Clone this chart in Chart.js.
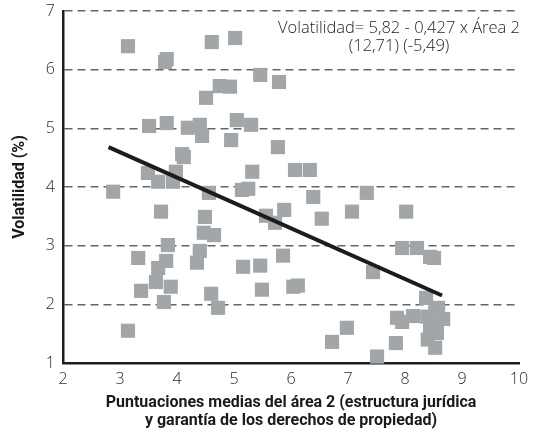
<!DOCTYPE html>
<html>
<head>
<meta charset="utf-8">
<script src="https://cdn.jsdelivr.net/npm/chart.js@4.4.0/dist/chart.umd.js"></script>
<style>
  html, body { margin: 0; padding: 0; background: #fff; }
  #wrap { width: 536px; height: 434px; position: relative; }
</style>
</head>
<body>
<div id="wrap"><canvas id="chart"></canvas></div>
<script>
// puntuaciones medias del área 2 (eje x)
const area2 = [
  3.14, 4.61, 5.02, 3.82, 3.79, 5.46, 5.79, 4.75, 4.93, 4.51,
  3.51, 3.82, 4.19, 4.40, 4.44, 5.05, 5.30, 4.95, 5.77, 4.09,
  4.12, 3.49, 3.67, 3.98, 3.93, 5.32, 2.88, 4.56, 5.14, 5.25,
  6.07, 6.33, 6.39, 7.33, 6.54, 7.07, 8.02, 3.72, 4.49, 4.47,
  4.65, 5.56, 5.72, 5.88, 3.84, 4.40, 4.35, 3.32, 3.81, 3.67,
  3.63, 3.37, 3.89, 3.77, 4.60, 4.72, 5.16, 5.46, 5.49, 6.04,
  6.12, 3.14, 7.44, 7.95, 8.21, 8.44, 8.51, 8.37, 8.58, 7.86,
  7.95, 8.14, 8.39, 8.53, 8.67, 8.44, 8.56, 8.40, 8.53, 7.84,
  6.98, 6.72, 7.51, 5.86
];
// volatilidad (%) (eje y)
const volatilidad = [
  6.40, 6.47, 6.54, 6.18, 6.13, 5.91, 5.79, 5.72, 5.71, 5.52,
  5.04, 5.09, 5.01, 5.06, 4.87, 5.14, 5.06, 4.80, 4.68, 4.56,
  4.51, 4.24, 4.09, 4.26, 4.09, 4.26, 3.92, 3.90, 3.95, 3.97,
  4.29, 4.29, 3.83, 3.90, 3.46, 3.58, 3.58, 3.58, 3.49, 3.22,
  3.18, 3.51, 3.39, 3.61, 3.01, 2.91, 2.71, 2.79, 2.74, 2.62,
  2.38, 2.23, 2.30, 2.04, 2.18, 1.94, 2.64, 2.66, 2.25, 2.30,
  2.32, 1.55, 2.55, 2.96, 2.96, 2.81, 2.79, 2.11, 1.94, 1.77,
  1.70, 1.80, 1.79, 1.86, 1.75, 1.62, 1.51, 1.40, 1.26, 1.34,
  1.60, 1.36, 1.11, 2.83
];
// recta de regresión: extremos
const fitX = [2.8, 8.65];
const fitY = [4.68, 2.15];

const xTicks = [2, 3, 4, 5, 6, 7, 8, 9, 10];
const yTicks = [1, 2, 3, 4, 5, 6, 7];

const eqLine1 = 'Volatilidad= 5,82 - 0,427 x Área 2';
const eqLine2 = '(12,71) (-5,49)';

const xTitle = ['Puntuaciones medias del área 2 (estructura jurídica',
                'y garantía de los derechos de propiedad)'];
const yTitle = 'Volatilidad (%)';

const puntos = area2.map((x, i) => ({ x: x, y: volatilidad[i] }));
const recta = fitX.map((x, i) => ({ x: x, y: fitY[i] }));

// texto de la ecuación arriba a la derecha
const ecuacion = {
  id: 'ecuacion',
  afterDatasetsDraw(chart) {
    const ctx = chart.ctx;
    const area = chart.chartArea;
    ctx.save();
    ctx.fillStyle = '#1e1e1e';
    ctx.font = '300 16.5px "Open Sans", sans-serif';
    ctx.textBaseline = 'middle';
    ctx.textAlign = 'right';
    ctx.fillText(eqLine1, area.right + 1, 28);
    const w = ctx.measureText(eqLine1).width;
    ctx.textAlign = 'center';
    ctx.fillText(eqLine2, area.right + 1 - w / 2, 46);
    ctx.restore();
  }
};

const tickFont = { family: '"Open Sans", sans-serif', size: 16, weight: 300 };
const titleFont = { family: 'Roboto, sans-serif', size: 16, weight: 'bold', lineHeight: 1.12 };

new Chart(document.getElementById('chart'), {
  type: 'scatter',
  data: {
    datasets: [
      {
        type: 'line',
        data: recta,
        borderColor: '#1c1c1c',
        borderWidth: 4,
        pointRadius: 0,
        fill: false
      },
      {
        data: puntos,
        pointStyle: 'rect',
        pointRadius: 10,
        pointHoverRadius: 10,
        pointBackgroundColor: '#a2a6a9',
        pointBorderWidth: 0,
        borderWidth: 0
      }
    ]
  },
  options: {
    responsive: true,
    maintainAspectRatio: false,
    animation: false,
    clip: false,
    layout: { padding: { top: 11, right: 17, left: 0, bottom: 0 } },
    plugins: {
      legend: { display: false },
      tooltip: { enabled: false }
    },
    scales: {
      x: {
        type: 'linear',
        min: 2,
        max: 10,
        afterBuildTicks(scale) { scale.ticks = xTicks.map(v => ({ value: v })); },
        afterFit(scale) {
          scale.height = 71;
          scale.paddingLeft = 0;
          scale.paddingRight = 0;
        },
        grid: { display: false, drawTicks: false },
        border: { display: true, color: '#1e1e1e', width: 2.5 },
        ticks: { padding: 7, color: '#2a2a2a', font: tickFont },
        title: {
          display: true,
          text: xTitle,
          color: '#1a1a1a',
          padding: { top: 0, bottom: 4 },
          font: titleFont
        }
      },
      y: {
        type: 'linear',
        min: 1,
        max: 7,
        afterBuildTicks(scale) { scale.ticks = yTicks.map(v => ({ value: v })); },
        afterFit(scale) {
          scale.width = 63;
          scale.paddingTop = 0;
          scale.paddingBottom = 0;
        },
        grid: {
          drawTicks: false,
          lineWidth: 1.5,
          color: c => (c.tick && c.tick.value === 1 ? 'rgba(0,0,0,0)' : '#666')
        },
        border: { display: true, color: '#1e1e1e', width: 2.5, dash: [8, 5] },
        ticks: { padding: 8, color: '#2a2a2a', font: tickFont },
        title: {
          display: true,
          text: yTitle,
          color: '#1a1a1a',
          padding: { top: 11, bottom: 0 },
          font: titleFont
        }
      }
    }
  },
  plugins: [ecuacion]
});
</script>
</body>
</html>
